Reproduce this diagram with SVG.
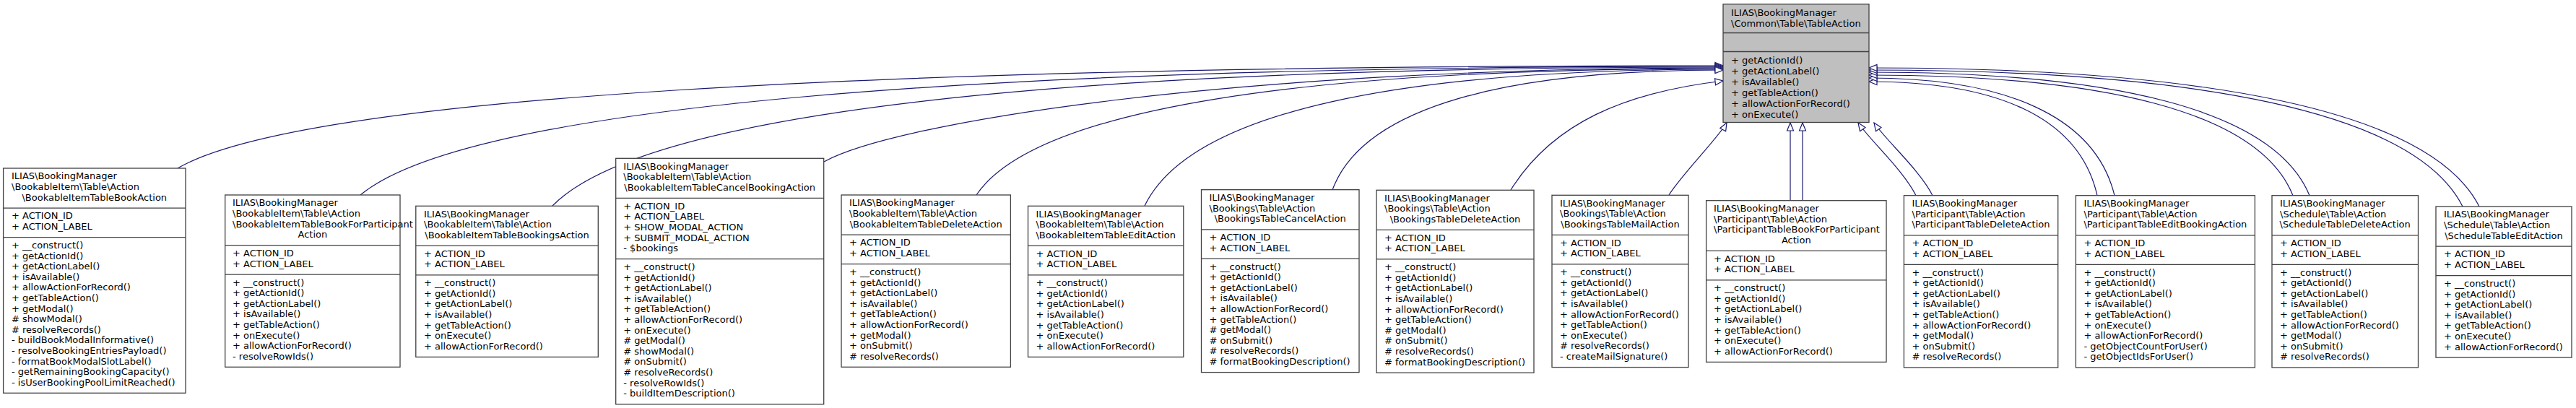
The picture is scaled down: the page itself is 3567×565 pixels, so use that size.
<svg xmlns="http://www.w3.org/2000/svg" width="3567" height="565" viewBox="0 0 3567 565">
<style>
text{font-family:"DejaVu Sans","Liberation Sans",sans-serif;font-size:13px;fill:#000}
.c{text-anchor:middle}
.box{fill:#fff;stroke:#404040;stroke-width:1.3}
.base{fill:#bfbfbf;stroke:#404040;stroke-width:1.3}
.sep{stroke:#404040;stroke-width:1.3}
.e{fill:none;stroke:#191970;stroke-width:1.2;marker-end:url(#tri)}
</style>
<defs>
<marker id="tri" markerUnits="userSpaceOnUse" viewBox="-1 -6 13 12" markerWidth="13" markerHeight="12" refX="11" refY="0" orient="auto">
<path d="M0,-4.5 L11,0 L0,4.5 Z" fill="#fff" stroke="#191970" stroke-width="1.2"/>
</marker>
</defs>
<rect width="3567" height="565" fill="#fff"/>
<g id="connectors">
<path class="e" d="M246,233 C417,133.6 1209,91 2386,91"/>
<path class="e" d="M499,270 C650,145.4 1348,92 2386,92"/>
<path class="e" d="M765,285 C897,150.6 1496,93 2386,93"/>
<path class="e" d="M1141,224 C1238,170 1700,94 2386,94"/>
<path class="e" d="M1352,270 C1435,147.5 1817,95 2386,95"/>
<path class="e" d="M1585,285 C1649,152.7 1945,96 2386,96"/>
<path class="e" d="M1845,263 C1888,146.8 2088,97 2386,97"/>
<path class="e" d="M2092,263 C2150,170 2250,128 2386,112"/>
<path class="e" d="M2311,270 C2330,240 2380,190 2391,170"/>
<path class="e" d="M2479,277.7 L2479,170"/>
<path class="e" d="M2496,277.7 L2496,170"/>
<path class="e" d="M2653,270.7 C2635,235 2590,195 2573,170"/>
<path class="e" d="M2676,270.7 C2658,235 2612,195 2595,170"/>
<path class="e" d="M2904,270.7 C2879,160.6 2762,113 2588,113"/>
<path class="e" d="M2928,270.7 C2901,160 2775,108 2588,108"/>
<path class="e" d="M3175,270.7 C3128,153.8 2911,104 2588,104"/>
<path class="e" d="M3198,270.7 C3149,151.2 2924,100 2588,100"/>
<path class="e" d="M3410,286 C3344,153.7 3040,97 2588,97"/>
<path class="e" d="M3433,286 C3365,152 3053,94 2588,94"/>
</g>
<g id="TableAction">
<rect class="base" x="2386" y="5.7" width="202" height="163.8"/>
<line class="sep" x1="2386" y1="45.5" x2="2588" y2="45.5"/>
<line class="sep" x1="2386" y1="71.5" x2="2588" y2="71.5"/>
<text x="2397" y="22">ILIAS\BookingManager</text>
<text x="2397" y="37">\Common\Table\TableAction</text>
<text x="2397" y="88">+ getActionId()</text>
<text x="2397" y="103">+ getActionLabel()</text>
<text x="2397" y="118">+ isAvailable()</text>
<text x="2397" y="133">+ getTableAction()</text>
<text x="2397" y="148">+ allowActionForRecord()</text>
<text x="2397" y="163">+ onExecute()</text>
</g>
<g id="BookableItemTableBookAction">
<rect class="box" x="4.6" y="233" width="252.4" height="311.3"/>
<line class="sep" x1="4.6" y1="288.1" x2="257" y2="288.1"/>
<line class="sep" x1="4.6" y1="328.6" x2="257" y2="328.6"/>
<text x="16" y="248.3">ILIAS\BookingManager</text>
<text x="16" y="262.9">\BookableItem\Table\Action</text>
<text class="c" x="130.8" y="277.5">\BookableItemTableBookAction</text>
<text x="16" y="303.4">+ ACTION_ID</text>
<text x="16" y="318">+ ACTION_LABEL</text>
<text x="16" y="343.9">+ __construct()</text>
<text x="16" y="358.5">+ getActionId()</text>
<text x="16" y="373.1">+ getActionLabel()</text>
<text x="16" y="387.7">+ isAvailable()</text>
<text x="16" y="402.3">+ allowActionForRecord()</text>
<text x="16" y="416.9">+ getTableAction()</text>
<text x="16" y="431.5">+ getModal()</text>
<text x="16" y="446.1"># showModal()</text>
<text x="16" y="460.7"># resolveRecords()</text>
<text x="16" y="475.3">- buildBookModalInformative()</text>
<text x="16" y="489.9">- resolveBookingEntriesPayload()</text>
<text x="16" y="504.5">- formatBookModalSlotLabel()</text>
<text x="16" y="519.1">- getRemainingBookingCapacity()</text>
<text x="16" y="533.7">- isUserBookingPoolLimitReached()</text>
</g>
<g id="BookableItemTableBookForParticipantAction">
<rect class="box" x="311.7" y="270" width="242.3" height="238.3"/>
<line class="sep" x1="311.7" y1="339.7" x2="554" y2="339.7"/>
<line class="sep" x1="311.7" y1="380.2" x2="554" y2="380.2"/>
<text x="322" y="285.3">ILIAS\BookingManager</text>
<text x="322" y="299.9">\BookableItem\Table\Action</text>
<text x="322" y="314.5">\BookableItemTableBookForParticipant</text>
<text class="c" x="432.9" y="329.1">Action</text>
<text x="322" y="355">+ ACTION_ID</text>
<text x="322" y="369.6">+ ACTION_LABEL</text>
<text x="322" y="395.5">+ __construct()</text>
<text x="322" y="410.1">+ getActionId()</text>
<text x="322" y="424.7">+ getActionLabel()</text>
<text x="322" y="439.3">+ isAvailable()</text>
<text x="322" y="453.9">+ getTableAction()</text>
<text x="322" y="468.5">+ onExecute()</text>
<text x="322" y="483.1">+ allowActionForRecord()</text>
<text x="322" y="497.7">- resolveRowIds()</text>
</g>
<g id="BookableItemTableBookingsAction">
<rect class="box" x="575.8" y="285.3" width="252.5" height="209.1"/>
<line class="sep" x1="575.8" y1="340.4" x2="828.3" y2="340.4"/>
<line class="sep" x1="575.8" y1="380.9" x2="828.3" y2="380.9"/>
<text x="587" y="300.6">ILIAS\BookingManager</text>
<text x="587" y="315.2">\BookableItem\Table\Action</text>
<text class="c" x="702" y="329.8">\BookableItemTableBookingsAction</text>
<text x="587" y="355.7">+ ACTION_ID</text>
<text x="587" y="370.3">+ ACTION_LABEL</text>
<text x="587" y="396.2">+ __construct()</text>
<text x="587" y="410.8">+ getActionId()</text>
<text x="587" y="425.4">+ getActionLabel()</text>
<text x="587" y="440">+ isAvailable()</text>
<text x="587" y="454.6">+ getTableAction()</text>
<text x="587" y="469.2">+ onExecute()</text>
<text x="587" y="483.8">+ allowActionForRecord()</text>
</g>
<g id="BookableItemTableCancelBookingAction">
<rect class="box" x="852.7" y="219.3" width="288" height="340.5"/>
<line class="sep" x1="852.7" y1="274.4" x2="1140.7" y2="274.4"/>
<line class="sep" x1="852.7" y1="358.7" x2="1140.7" y2="358.7"/>
<text x="863.3" y="234.6">ILIAS\BookingManager</text>
<text x="863.3" y="249.2">\BookableItem\Table\Action</text>
<text class="c" x="996.7" y="263.8">\BookableItemTableCancelBookingAction</text>
<text x="863.3" y="289.7">+ ACTION_ID</text>
<text x="863.3" y="304.3">+ ACTION_LABEL</text>
<text x="863.3" y="318.9">+ SHOW_MODAL_ACTION</text>
<text x="863.3" y="333.5">+ SUBMIT_MODAL_ACTION</text>
<text x="863.3" y="348.1">- $bookings</text>
<text x="863.3" y="374">+ __construct()</text>
<text x="863.3" y="388.6">+ getActionId()</text>
<text x="863.3" y="403.2">+ getActionLabel()</text>
<text x="863.3" y="417.8">+ isAvailable()</text>
<text x="863.3" y="432.4">+ getTableAction()</text>
<text x="863.3" y="447">+ allowActionForRecord()</text>
<text x="863.3" y="461.6">+ onExecute()</text>
<text x="863.3" y="476.2"># getModal()</text>
<text x="863.3" y="490.8"># showModal()</text>
<text x="863.3" y="505.4"># onSubmit()</text>
<text x="863.3" y="520"># resolveRecords()</text>
<text x="863.3" y="534.6">- resolveRowIds()</text>
<text x="863.3" y="549.2">- buildItemDescription()</text>
</g>
<g id="BookableItemTableDeleteAction">
<rect class="box" x="1165" y="270" width="234.4" height="238.3"/>
<line class="sep" x1="1165" y1="325.1" x2="1399.4" y2="325.1"/>
<line class="sep" x1="1165" y1="365.6" x2="1399.4" y2="365.6"/>
<text x="1176" y="285.3">ILIAS\BookingManager</text>
<text x="1176" y="299.9">\BookableItem\Table\Action</text>
<text class="c" x="1282.2" y="314.5">\BookableItemTableDeleteAction</text>
<text x="1176" y="340.4">+ ACTION_ID</text>
<text x="1176" y="355">+ ACTION_LABEL</text>
<text x="1176" y="380.9">+ __construct()</text>
<text x="1176" y="395.5">+ getActionId()</text>
<text x="1176" y="410.1">+ getActionLabel()</text>
<text x="1176" y="424.7">+ isAvailable()</text>
<text x="1176" y="439.3">+ getTableAction()</text>
<text x="1176" y="453.9">+ allowActionForRecord()</text>
<text x="1176" y="468.5">+ getModal()</text>
<text x="1176" y="483.1">+ onSubmit()</text>
<text x="1176" y="497.7"># resolveRecords()</text>
</g>
<g id="BookableItemTableEditAction">
<rect class="box" x="1423.5" y="285.3" width="215.3" height="209.1"/>
<line class="sep" x1="1423.5" y1="340.4" x2="1638.8" y2="340.4"/>
<line class="sep" x1="1423.5" y1="380.9" x2="1638.8" y2="380.9"/>
<text x="1434.5" y="300.6">ILIAS\BookingManager</text>
<text x="1434.5" y="315.2">\BookableItem\Table\Action</text>
<text class="c" x="1531.2" y="329.8">\BookableItemTableEditAction</text>
<text x="1434.5" y="355.7">+ ACTION_ID</text>
<text x="1434.5" y="370.3">+ ACTION_LABEL</text>
<text x="1434.5" y="396.2">+ __construct()</text>
<text x="1434.5" y="410.8">+ getActionId()</text>
<text x="1434.5" y="425.4">+ getActionLabel()</text>
<text x="1434.5" y="440">+ isAvailable()</text>
<text x="1434.5" y="454.6">+ getTableAction()</text>
<text x="1434.5" y="469.2">+ onExecute()</text>
<text x="1434.5" y="483.8">+ allowActionForRecord()</text>
</g>
<g id="BookingsTableCancelAction">
<rect class="box" x="1663.5" y="262.7" width="218.5" height="252.9"/>
<line class="sep" x1="1663.5" y1="317.8" x2="1882" y2="317.8"/>
<line class="sep" x1="1663.5" y1="358.3" x2="1882" y2="358.3"/>
<text x="1674.5" y="278">ILIAS\BookingManager</text>
<text x="1674.5" y="292.6">\Bookings\Table\Action</text>
<text class="c" x="1772.7" y="307.2">\BookingsTableCancelAction</text>
<text x="1674.5" y="333.1">+ ACTION_ID</text>
<text x="1674.5" y="347.7">+ ACTION_LABEL</text>
<text x="1674.5" y="373.6">+ __construct()</text>
<text x="1674.5" y="388.2">+ getActionId()</text>
<text x="1674.5" y="402.8">+ getActionLabel()</text>
<text x="1674.5" y="417.4">+ isAvailable()</text>
<text x="1674.5" y="432">+ allowActionForRecord()</text>
<text x="1674.5" y="446.6">+ getTableAction()</text>
<text x="1674.5" y="461.2"># getModal()</text>
<text x="1674.5" y="475.8"># onSubmit()</text>
<text x="1674.5" y="490.4"># resolveRecords()</text>
<text x="1674.5" y="505"># formatBookingDescription()</text>
</g>
<g id="BookingsTableDeleteAction">
<rect class="box" x="1906" y="263.3" width="218" height="252.9"/>
<line class="sep" x1="1906" y1="318.4" x2="2124" y2="318.4"/>
<line class="sep" x1="1906" y1="358.9" x2="2124" y2="358.9"/>
<text x="1917" y="278.6">ILIAS\BookingManager</text>
<text x="1917" y="293.2">\Bookings\Table\Action</text>
<text class="c" x="2015" y="307.8">\BookingsTableDeleteAction</text>
<text x="1917" y="333.7">+ ACTION_ID</text>
<text x="1917" y="348.3">+ ACTION_LABEL</text>
<text x="1917" y="374.2">+ __construct()</text>
<text x="1917" y="388.8">+ getActionId()</text>
<text x="1917" y="403.4">+ getActionLabel()</text>
<text x="1917" y="418">+ isAvailable()</text>
<text x="1917" y="432.6">+ allowActionForRecord()</text>
<text x="1917" y="447.2">+ getTableAction()</text>
<text x="1917" y="461.8"># getModal()</text>
<text x="1917" y="476.4"># onSubmit()</text>
<text x="1917" y="491"># resolveRecords()</text>
<text x="1917" y="505.6"># formatBookingDescription()</text>
</g>
<g id="BookingsTableMailAction">
<rect class="box" x="2149" y="270.3" width="189" height="238.3"/>
<line class="sep" x1="2149" y1="325.4" x2="2338" y2="325.4"/>
<line class="sep" x1="2149" y1="365.9" x2="2338" y2="365.9"/>
<text x="2160" y="285.6">ILIAS\BookingManager</text>
<text x="2160" y="300.2">\Bookings\Table\Action</text>
<text class="c" x="2243.5" y="314.8">\BookingsTableMailAction</text>
<text x="2160" y="340.7">+ ACTION_ID</text>
<text x="2160" y="355.3">+ ACTION_LABEL</text>
<text x="2160" y="381.2">+ __construct()</text>
<text x="2160" y="395.8">+ getActionId()</text>
<text x="2160" y="410.4">+ getActionLabel()</text>
<text x="2160" y="425">+ isAvailable()</text>
<text x="2160" y="439.6">+ allowActionForRecord()</text>
<text x="2160" y="454.2">+ getTableAction()</text>
<text x="2160" y="468.8">+ onExecute()</text>
<text x="2160" y="483.4"># resolveRecords()</text>
<text x="2160" y="498">- createMailSignature()</text>
</g>
<g id="ParticipantTableBookForParticipantAction">
<rect class="box" x="2362.6" y="277.7" width="249.4" height="223.7"/>
<line class="sep" x1="2362.6" y1="347.4" x2="2612" y2="347.4"/>
<line class="sep" x1="2362.6" y1="387.9" x2="2612" y2="387.9"/>
<text x="2373" y="293">ILIAS\BookingManager</text>
<text x="2373" y="307.6">\Participant\Table\Action</text>
<text x="2373" y="322.2">\ParticipantTableBookForParticipant</text>
<text class="c" x="2487.3" y="336.8">Action</text>
<text x="2373" y="362.7">+ ACTION_ID</text>
<text x="2373" y="377.3">+ ACTION_LABEL</text>
<text x="2373" y="403.2">+ __construct()</text>
<text x="2373" y="417.8">+ getActionId()</text>
<text x="2373" y="432.4">+ getActionLabel()</text>
<text x="2373" y="447">+ isAvailable()</text>
<text x="2373" y="461.6">+ getTableAction()</text>
<text x="2373" y="476.2">+ onExecute()</text>
<text x="2373" y="490.8">+ allowActionForRecord()</text>
</g>
<g id="ParticipantTableDeleteAction">
<rect class="box" x="2636.4" y="270.7" width="213.3" height="238.3"/>
<line class="sep" x1="2636.4" y1="325.8" x2="2849.7" y2="325.8"/>
<line class="sep" x1="2636.4" y1="366.3" x2="2849.7" y2="366.3"/>
<text x="2647.5" y="286">ILIAS\BookingManager</text>
<text x="2647.5" y="300.6">\Participant\Table\Action</text>
<text class="c" x="2743" y="315.2">\ParticipantTableDeleteAction</text>
<text x="2647.5" y="341.1">+ ACTION_ID</text>
<text x="2647.5" y="355.7">+ ACTION_LABEL</text>
<text x="2647.5" y="381.6">+ __construct()</text>
<text x="2647.5" y="396.2">+ getActionId()</text>
<text x="2647.5" y="410.8">+ getActionLabel()</text>
<text x="2647.5" y="425.4">+ isAvailable()</text>
<text x="2647.5" y="440">+ getTableAction()</text>
<text x="2647.5" y="454.6">+ allowActionForRecord()</text>
<text x="2647.5" y="469.2">+ getModal()</text>
<text x="2647.5" y="483.8">+ onSubmit()</text>
<text x="2647.5" y="498.4"># resolveRecords()</text>
</g>
<g id="ParticipantTableEditBookingAction">
<rect class="box" x="2874.4" y="270.7" width="248" height="238.3"/>
<line class="sep" x1="2874.4" y1="325.8" x2="3122.4" y2="325.8"/>
<line class="sep" x1="2874.4" y1="366.3" x2="3122.4" y2="366.3"/>
<text x="2885.5" y="286">ILIAS\BookingManager</text>
<text x="2885.5" y="300.6">\Participant\Table\Action</text>
<text class="c" x="2998.4" y="315.2">\ParticipantTableEditBookingAction</text>
<text x="2885.5" y="341.1">+ ACTION_ID</text>
<text x="2885.5" y="355.7">+ ACTION_LABEL</text>
<text x="2885.5" y="381.6">+ __construct()</text>
<text x="2885.5" y="396.2">+ getActionId()</text>
<text x="2885.5" y="410.8">+ getActionLabel()</text>
<text x="2885.5" y="425.4">+ isAvailable()</text>
<text x="2885.5" y="440">+ getTableAction()</text>
<text x="2885.5" y="454.6">+ onExecute()</text>
<text x="2885.5" y="469.2">+ allowActionForRecord()</text>
<text x="2885.5" y="483.8">- getObjectCountForUser()</text>
<text x="2885.5" y="498.4">- getObjectIdsForUser()</text>
</g>
<g id="ScheduleTableDeleteAction">
<rect class="box" x="3146" y="270.7" width="202.5" height="238.3"/>
<line class="sep" x1="3146" y1="325.8" x2="3348.5" y2="325.8"/>
<line class="sep" x1="3146" y1="366.3" x2="3348.5" y2="366.3"/>
<text x="3157" y="286">ILIAS\BookingManager</text>
<text x="3157" y="300.6">\Schedule\Table\Action</text>
<text class="c" x="3247.2" y="315.2">\ScheduleTableDeleteAction</text>
<text x="3157" y="341.1">+ ACTION_ID</text>
<text x="3157" y="355.7">+ ACTION_LABEL</text>
<text x="3157" y="381.6">+ __construct()</text>
<text x="3157" y="396.2">+ getActionId()</text>
<text x="3157" y="410.8">+ getActionLabel()</text>
<text x="3157" y="425.4">+ isAvailable()</text>
<text x="3157" y="440">+ getTableAction()</text>
<text x="3157" y="454.6">+ allowActionForRecord()</text>
<text x="3157" y="469.2">+ getModal()</text>
<text x="3157" y="483.8">+ onSubmit()</text>
<text x="3157" y="498.4"># resolveRecords()</text>
</g>
<g id="ScheduleTableEditAction">
<rect class="box" x="3373" y="286" width="188" height="209.1"/>
<line class="sep" x1="3373" y1="341.1" x2="3561" y2="341.1"/>
<line class="sep" x1="3373" y1="381.6" x2="3561" y2="381.6"/>
<text x="3384" y="301.3">ILIAS\BookingManager</text>
<text x="3384" y="315.9">\Schedule\Table\Action</text>
<text class="c" x="3467" y="330.5">\ScheduleTableEditAction</text>
<text x="3384" y="356.4">+ ACTION_ID</text>
<text x="3384" y="371">+ ACTION_LABEL</text>
<text x="3384" y="396.9">+ __construct()</text>
<text x="3384" y="411.5">+ getActionId()</text>
<text x="3384" y="426.1">+ getActionLabel()</text>
<text x="3384" y="440.7">+ isAvailable()</text>
<text x="3384" y="455.3">+ getTableAction()</text>
<text x="3384" y="469.9">+ onExecute()</text>
<text x="3384" y="484.5">+ allowActionForRecord()</text>
</g>
</svg>
